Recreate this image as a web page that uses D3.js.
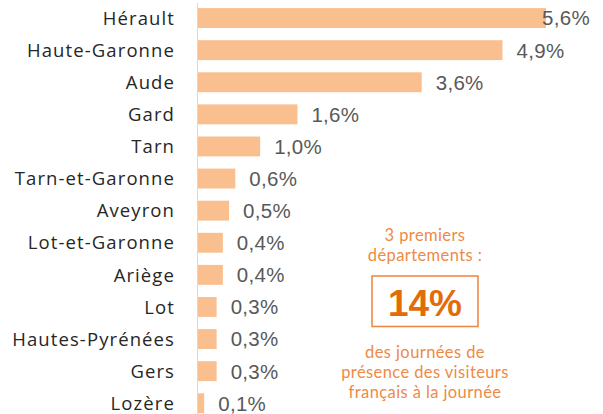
<!DOCTYPE html>
<html>
<head>
<meta charset="utf-8">
<script src="https://cdn.jsdelivr.net/npm/d3@7"></script>
<style>
    body { margin: 0; background: #ffffff; }
    svg { display: block; }
</style>
</head>
<body>
<div id="chart"></div>
<script>
// Données
const departements = ['Hérault', 'Haute-Garonne', 'Aude', 'Gard', 'Tarn', 'Tarn-et-Garonne',
    'Aveyron', 'Lot-et-Garonne', 'Ariège', 'Lot', 'Hautes-Pyrénées', 'Gers', 'Lozère'];
const valeurs = [5.6, 4.9, 3.6, 1.6, 1.0, 0.6, 0.5, 0.4, 0.4, 0.3, 0.3, 0.3, 0.1];
const encadreHaut = ['3 premiers', 'départements :'];
const encadreValeur = '14%';
const encadreBas = ['des journées de', 'présence des visiteurs', 'français à la journée'];

const width = 603;
const height = 414;
const axeX = 198;

const data = departements.map((d, i) => ({ dep: d, val: valeurs[i] }));

const svg = d3.select('#chart')
    .append('svg')
    .attr('width', width)
    .attr('height', height);

const xScale = d3.scaleLinear()
    .domain([0, 5.6])
    .range([axeX, 546]);

const yScale = d3.scaleBand()
    .domain(departements)
    .range([2, 419.3])
    .paddingInner(0.38)
    .paddingOuter(0.19);

// Barres
svg.selectAll('.bar')
    .data(data)
    .enter()
    .append('rect')
    .attr('class', 'bar')
    .attr('x', xScale(0))
    .attr('y', d => yScale(d.dep))
    .attr('width', d => xScale(d.val) - xScale(0))
    .attr('height', yScale.bandwidth())
    .attr('fill', '#F9BF8F');

// Ligne d'axe vertical
svg.append('line')
    .attr('x1', axeX - 0.5)
    .attr('x2', axeX - 0.5)
    .attr('y1', 3)
    .attr('y2', height)
    .attr('stroke', '#D9D9D9')
    .attr('stroke-width', 1);

// Libellés des départements
svg.selectAll('.cat')
    .data(data)
    .enter()
    .append('text')
    .attr('class', 'cat')
    .attr('x', 175)
    .attr('y', d => yScale(d.dep) + yScale.bandwidth() / 2)
    .attr('dy', '0.36em')
    .attr('text-anchor', 'end')
    .style('font-family', '"Open Sans", sans-serif')
    .style('font-size', '18.5px')
    .style('letter-spacing', '1.1px')
    .style('fill', '#262626')
    .text(d => d.dep);

// Valeurs
svg.selectAll('.val')
    .data(data)
    .enter()
    .append('text')
    .attr('class', 'val')
    .attr('x', d => Math.min(xScale(d.val) + 14, 542))
    .attr('y', d => yScale(d.dep) + yScale.bandwidth() / 2)
    .attr('dy', '0.36em')
    .style('font-family', '"Liberation Sans", Arial, sans-serif')
    .style('font-size', '20.5px')
    .style('letter-spacing', '0.3px')
    .style('fill', '#595959')
    .text(d => d3.format('.1f')(d.val).replace('.', ',') + '%');

// Encadré
const cx = 425;
const annot = svg.append('g').attr('class', 'annotation');

encadreHaut.forEach((t, i) => {
    annot.append('text')
        .attr('x', cx)
        .attr('y', 241 + i * 20)
        .attr('text-anchor', 'middle')
        .style('font-family', 'Lato, sans-serif')
        .style('font-size', '16.5px')
        .style('letter-spacing', '0.4px')
        .style('fill', '#EE8A45')
        .text(t);
});

annot.append('rect')
    .attr('x', 372)
    .attr('y', 276)
    .attr('width', 106)
    .attr('height', 50.5)
    .attr('fill', 'none')
    .attr('stroke', '#EE8A45')
    .attr('stroke-width', 1.6);

annot.append('text')
    .attr('x', cx)
    .attr('y', 316)
    .attr('text-anchor', 'middle')
    .style('font-family', '"Liberation Sans", Arial, sans-serif')
    .style('font-size', '37px')
    .style('font-weight', 'bold')
    .style('fill', '#E36C0A')
    .text(encadreValeur);

encadreBas.forEach((t, i) => {
    annot.append('text')
        .attr('x', cx)
        .attr('y', 358 + i * 20)
        .attr('text-anchor', 'middle')
        .style('font-family', 'Lato, sans-serif')
        .style('font-size', '16.5px')
        .style('letter-spacing', '0.4px')
        .style('fill', '#EE8A45')
        .text(t);
});
</script>
</body>
</html>
